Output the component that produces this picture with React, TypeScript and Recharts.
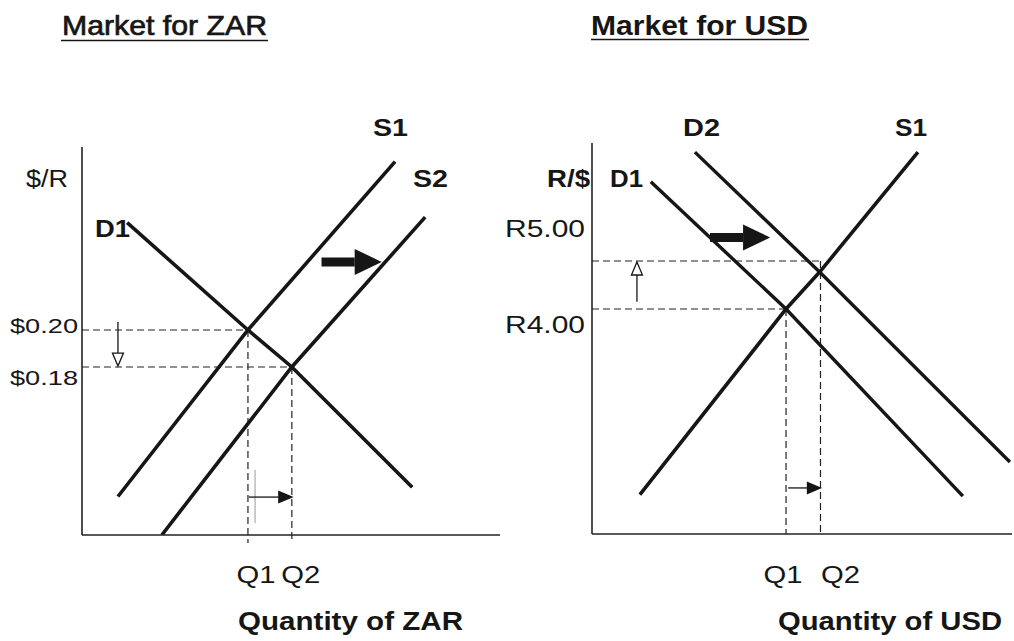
import React from 'react';
import { LineChart, Line, XAxis, YAxis, ReferenceLine } from 'recharts';

// Market for ZAR (price in $ per rand, quantity index 0-100)
const zarD1 = [
  { q: 10.8, p: 0.258 },
  { q: 39.7, p: 0.2 },
  { q: 50.2, p: 0.18 },
  { q: 79.0, p: 0.115 },
];
const zarS1 = [
  { q: 8.6, p: 0.11 },
  { q: 39.7, p: 0.2 },
  { q: 74.9, p: 0.291 },
];
const zarS2 = [
  { q: 19.1, p: 0.0892 },
  { q: 50.2, p: 0.18 },
  { q: 82.1, p: 0.261 },
];
const zarPriceTicks = [0.2, 0.18];
const zarQtyTicks = [39.7, 50.2];

// Market for USD (price in R per dollar)
const usdD1 = [
  { q: 14.0, p: 6.65 },
  { q: 46.2, p: 4.0 },
  { q: 88.3, p: 0.1 },
];
const usdD2 = [
  { q: 24.5, p: 7.27 },
  { q: 54.2, p: 4.77 },
  { q: 99.5, p: 0.81 },
];
const usdS1 = [
  { q: 11.4, p: 0.13 },
  { q: 46.2, p: 4.0 },
  { q: 54.2, p: 4.77 },
  { q: 77.6, p: 7.27 },
];
const usdPriceTicks = [5.0, 4.0];
const usdQtyTicks = [46.2, 54.4];

const qtyNames = ['Q1', 'Q2'];

const FONT = '"Liberation Sans", Arial, Helvetica, sans-serif';
const INK = '#161616';

type Seg = [{ x: number; y: number }, { x: number; y: number }];
const seg = (q1: number, p1: number, q2: number, p2: number): Seg => [
  { x: q1, y: p1 },
  { x: q2, y: p2 },
];

function arrowShape(kind: 'open' | 'small' | 'thick' | 'plain') {
  return (props: any) => {
    const { x1, y1, x2, y2 } = props;
    if (kind === 'plain') {
      return <line x1={x1} y1={y1} x2={x2} y2={y2} stroke="#9a9a9a" strokeWidth={1} />;
    }
    const dx = x2 - x1;
    const dy = y2 - y1;
    const len = Math.hypot(dx, dy) || 1;
    const ux = dx / len;
    const uy = dy / len;
    const nx = -uy;
    const ny = ux;
    const head = kind === 'thick' ? 27 : 13;
    const half = kind === 'thick' ? 13 : 5.5;
    const bx = x2 - ux * head;
    const by = y2 - uy * head;
    const tri = `${x2},${y2} ${bx + nx * half},${by + ny * half} ${bx - nx * half},${by - ny * half}`;
    if (kind === 'thick') {
      const w = 4.5;
      const body = `${x1 + nx * w},${y1 + ny * w} ${bx + nx * w},${by + ny * w} ${bx - nx * w},${by - ny * w} ${x1 - nx * w},${y1 - ny * w}`;
      return (
        <g>
          <polygon points={body} fill={INK} />
          <polygon points={tri} fill={INK} />
        </g>
      );
    }
    return (
      <g>
        <line x1={x1} y1={y1} x2={bx} y2={by} stroke={INK} strokeWidth={1.3} />
        <polygon points={tri} fill={kind === 'open' ? '#fff' : INK} stroke={INK} strokeWidth={1.3} />
      </g>
    );
  };
}

const PriceTick = (props: any) => {
  const { x, y, payload, prefix, shifts, gap, size, len } = props;
  return (
    <text
      x={x - gap}
      y={y + shifts[String(payload.value)]}
      textAnchor="end"
      fontFamily={FONT}
      fontSize={size}
      fill={INK}
      textLength={len}
      lengthAdjust="spacingAndGlyphs"
    >
      {prefix + Number(payload.value).toFixed(2)}
    </text>
  );
};

const QtyTick = (props: any) => {
  const { x, y, index, shifts, dy } = props;
  return (
    <text
      x={x + shifts[index]}
      y={y + dy}
      textAnchor="middle"
      fontFamily={FONT}
      fontSize={24}
      fill={INK}
      textLength={39}
      lengthAdjust="spacingAndGlyphs"
    >
      {qtyNames[index]}
    </text>
  );
};

const dash = { stroke: '#222', strokeWidth: 1.2, strokeDasharray: '7 4' };
const axisStyle = { stroke: '#222', strokeWidth: 1.6 };

const Txt = ({ x, y, t, size, len, bold, thick }: any) => (
  <text
    x={x}
    y={y}
    fontFamily={FONT}
    fontSize={size}
    fontWeight={bold ? 'bold' : 'normal'}
    fill={INK}
    stroke={thick ? INK : 'none'}
    strokeWidth={thick || 0}
    textLength={len}
    lengthAdjust="spacingAndGlyphs"
  >
    {t}
  </text>
);

export default function App() {
  return (
    <div
      style={{
        position: 'fixed',
        left: 0,
        top: 0,
        width: 1014,
        height: 641,
        background: '#fff',
        fontFamily: FONT,
        overflow: 'hidden',
      }}
    >
      <div style={{ position: 'absolute', left: 0, top: 0 }}>
        <LineChart width={507} height={641} margin={{ top: 147, right: 7, bottom: 46, left: 22 }}>
          <XAxis
            type="number"
            dataKey="q"
            domain={[0, 100]}
            allowDataOverflow
            ticks={zarQtyTicks}
            interval={0}
            height={60}
            tickSize={0}
            tickMargin={0}
            tickLine={false}
            axisLine={axisStyle}
            tick={(p: any) => <QtyTick {...p} shifts={[8, 9]} dy={48} />}
          />
          <YAxis
            type="number"
            domain={[0.0892, 0.2989]}
            allowDataOverflow
            ticks={zarPriceTicks}
            interval={0}
            width={60}
            tickSize={0}
            tickMargin={0}
            tickLine={false}
            axisLine={axisStyle}
            tick={(p: any) => (
              <PriceTick {...p} prefix="$" shifts={{ '0.2': 3, '0.18': 18 }} gap={4} size={21} len={68} />
            )}
          />
          <ReferenceLine segment={seg(0, 0.2, 39.7, 0.2)} ifOverflow="visible" {...dash} />
          <ReferenceLine segment={seg(0, 0.18, 50.2, 0.18)} ifOverflow="visible" {...dash} />
          <ReferenceLine segment={seg(39.7, 0.2, 39.7, 0.0849)} ifOverflow="visible" {...dash} />
          <ReferenceLine segment={seg(50.2, 0.18, 50.2, 0.0849)} ifOverflow="visible" {...dash} />
          <ReferenceLine segment={seg(41.4, 0.1243, 41.4, 0.0957)} ifOverflow="visible" shape={arrowShape('plain')} />
          <Line data={zarD1} dataKey="p" type="linear" stroke={INK} strokeWidth={3.6} dot={false} isAnimationActive={false} />
          <Line data={zarS1} dataKey="p" type="linear" stroke={INK} strokeWidth={3.6} dot={false} isAnimationActive={false} />
          <Line data={zarS2} dataKey="p" type="linear" stroke={INK} strokeWidth={3.6} dot={false} isAnimationActive={false} />
          <ReferenceLine segment={seg(8.6, 0.2043, 8.6, 0.1805)} ifOverflow="visible" shape={arrowShape('open')} />
          <ReferenceLine segment={seg(39.9, 0.1097, 50.2, 0.1097)} ifOverflow="visible" shape={arrowShape('small')} />
          <ReferenceLine segment={seg(57.3, 0.2368, 71.7, 0.2368)} ifOverflow="visible" shape={arrowShape('thick')} />
        </LineChart>
      </div>

      <div style={{ position: 'absolute', left: 480, top: 0 }}>
        <LineChart width={534} height={641} margin={{ top: 143, right: 2, bottom: 47, left: 52 }}>
          <XAxis
            type="number"
            dataKey="q"
            domain={[0, 100]}
            allowDataOverflow
            ticks={usdQtyTicks}
            interval={0}
            height={60}
            tickSize={0}
            tickMargin={0}
            tickLine={false}
            axisLine={axisStyle}
            tick={(p: any) => <QtyTick {...p} shifts={[-3, 20]} dy={49} />}
          />
          <YAxis
            type="number"
            domain={[-0.69, 7.46]}
            allowDataOverflow
            ticks={usdPriceTicks}
            interval={0}
            width={60}
            tickSize={0}
            tickMargin={0}
            tickLine={false}
            axisLine={axisStyle}
            tick={(p: any) => (
              <PriceTick {...p} prefix="R" shifts={{ '5': -24, '4': 24 }} gap={7} size={24} len={80} />
            )}
          />
          <ReferenceLine segment={seg(0, 5.0, 54.6, 5.0)} ifOverflow="visible" {...dash} />
          <ReferenceLine segment={seg(0, 4.0, 46.2, 4.0)} ifOverflow="visible" {...dash} />
          <ReferenceLine segment={seg(46.2, 4.0, 46.2, -0.69)} ifOverflow="visible" {...dash} />
          <ReferenceLine segment={seg(54.4, 5.0, 54.4, -0.69)} ifOverflow="visible" {...dash} />
          <Line data={usdD1} dataKey="p" type="linear" stroke={INK} strokeWidth={3.4} dot={false} isAnimationActive={false} />
          <Line data={usdD2} dataKey="p" type="linear" stroke={INK} strokeWidth={3.4} dot={false} isAnimationActive={false} />
          <Line data={usdS1} dataKey="p" type="linear" stroke={INK} strokeWidth={3.6} dot={false} isAnimationActive={false} />
          <ReferenceLine segment={seg(10.7, 4.15, 10.7, 4.98)} ifOverflow="visible" shape={arrowShape('open')} />
          <ReferenceLine segment={seg(46.7, 0.27, 54.4, 0.27)} ifOverflow="visible" shape={arrowShape('small')} />
          <ReferenceLine segment={seg(28.1, 5.49, 42.4, 5.49)} ifOverflow="visible" shape={arrowShape('thick')} />
        </LineChart>
      </div>

      <svg
        width={1014}
        height={641}
        style={{ position: 'absolute', left: 0, top: 0, pointerEvents: 'none' }}
      >
        <Txt x={62} y={35} t="Market for ZAR" size={28} len={205} thick={0.7} />
        <line x1={61} y1={40.5} x2={268} y2={40.5} stroke={INK} strokeWidth={1.6} />
        <Txt x={591} y={35} t="Market for USD" size={28} len={217} bold />
        <line x1={591} y1={39.5} x2={809} y2={39.5} stroke={INK} strokeWidth={1.6} />

        <Txt x={373} y={136} t="S1" size={24} len={35} bold />
        <Txt x={413} y={187} t="S2" size={24} len={35} bold />
        <Txt x={26} y={187} t="$/R" size={23} len={42} />
        <Txt x={95} y={237} t="D1" size={23} len={35} bold />
        <Txt x={238} y={630} t="Quantity of ZAR" size={26} len={225} bold />

        <Txt x={683} y={136} t="D2" size={24} len={37} bold />
        <Txt x={895} y={136} t="S1" size={24} len={32} bold />
        <Txt x={547} y={187} t="R/$" size={23} len={43} bold />
        <Txt x={610} y={187} t="D1" size={23} len={33} bold />
        <Txt x={778} y={630} t="Quantity of USD" size={26} len={224} bold />
      </svg>
    </div>
  );
}
